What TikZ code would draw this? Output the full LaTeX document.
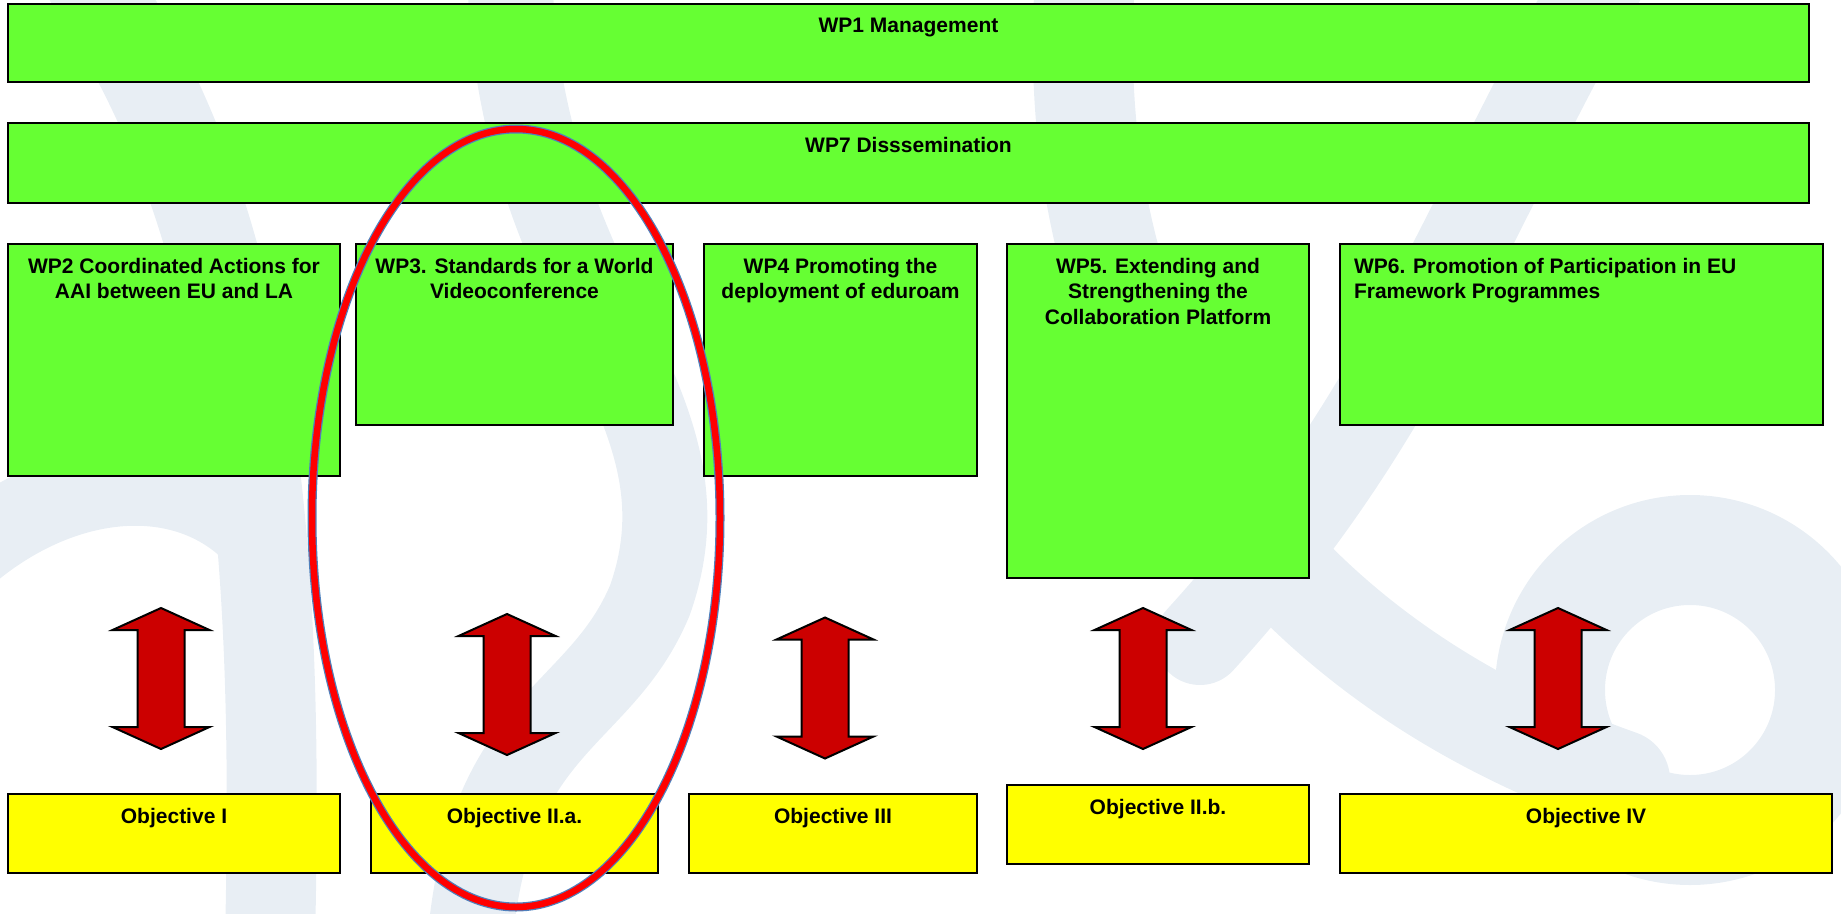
\documentclass[tikz,border=0pt]{standalone}
\usepackage{fontspec}
\setmainfont{Liberation Sans}
\usetikzlibrary{
    calc,
    positioning
}

\definecolor{wpgreen}{HTML}{66FF33}
\definecolor{objyellow}{HTML}{FFFF00}
\definecolor{arrowred}{HTML}{CC0000}
\definecolor{ringred}{HTML}{FF0000}
\definecolor{ringblue}{HTML}{4F81BD}
\definecolor{logogray}{HTML}{E8EEF4}

\tikzset{
    wpbox/.style={draw=black, line width=2, fill=wpgreen, inner sep=0pt, outer sep=0pt, anchor=north west},
    objbox/.style={wpbox, fill=objyellow},
    boxtext/.style={font=\fontsize{21}{25.7}\selectfont\bfseries, align=center, inner sep=0pt, outer sep=0pt},
    logoband/.style={draw=logogray, line width=90, line cap=round},
    updown/.pic={
        \draw[draw=black, line width=2, fill=arrowred, line join=miter]
        (0,-70.5) -- ++(48.5,22) -- ++(-25,0) -- ++(0,97) -- ++(25,0) -- ++(-48.5,22)
        -- ++(-48.5,-22) -- ++(25,0) -- ++(0,-97) -- ++(-25,0) -- cycle;
    }
}

\begin{document}
\begin{tikzpicture}[x=1pt, y=-1pt]
    \useasboundingbox (0,0) rectangle (1841,913);
    \clip (0,0) rectangle (1841,913);

    % faint logo in the background
    \draw[logoband] (90,-20) .. controls (250,220) and (280,520) .. (270,940);
    \draw[logoband, line width=80] (-40,560) .. controls (60,470) and (190,460) .. (260,540);
    \draw[logoband, line width=85] (510,-20) .. controls (520,300) and (720,400) .. (650,600)
        .. controls (600,720) and (490,720) .. (470,940);
    \draw[logoband, line width=100] (1085,-20) .. controls (1060,350) and (1250,650) .. (1620,780);
    \draw[logoband] (1600,-20) .. controls (1450,250) and (1400,420) .. (1200,640);
    \draw[logoband, line width=110] (1690,690) circle [radius=140];

    % work packages
    \node[wpbox, minimum width=1801, minimum height=78] (wp1) at (8,4) {};
    \node[wpbox, minimum width=1801, minimum height=80] (wp7) at (8,123) {};
    \node[wpbox, minimum width=332, minimum height=232] (wp2) at (8,244) {};
    \node[wpbox, minimum width=317, minimum height=181] (wp3) at (356,244) {};
    \node[wpbox, minimum width=273, minimum height=232] (wp4) at (704,244) {};
    \node[wpbox, minimum width=302, minimum height=334] (wp5) at (1007,244) {};
    \node[wpbox, minimum width=483, minimum height=181] (wp6) at (1340,244) {};

    \node[boxtext, below=14pt of wp1.north] (wp1t) {WP1 Management};
    \node[boxtext, below=14pt of wp7.north] (wp7t) {WP7 Disssemination};
    \node[boxtext, below=14pt of wp2.north] (wp2t) {WP2 Coordinated Actions for\\AAI between EU and LA};
    \node[boxtext, below=14pt of wp3.north] (wp3t) {WP3. Standards for a World\\Videoconference};
    \node[boxtext, below=14pt of wp4.north] (wp4t) {WP4 Promoting the\\deployment of eduroam};
    \node[boxtext, below=14pt of wp5.north] (wp5t) {WP5. Extending and\\Strengthening the\\Collaboration Platform};
    \node[boxtext, align=left, below right=14pt and 14pt of wp6.north west] (wp6t) {WP6. Promotion of Participation in EU\\Framework Programmes};

    % objectives
    \node[objbox, minimum width=332, minimum height=79] (obI) at (8,794) {};
    \node[objbox, minimum width=287, minimum height=79] (obIIa) at (371,794) {};
    \node[objbox, minimum width=288, minimum height=79] (obIII) at (689,794) {};
    \node[objbox, minimum width=302, minimum height=79] (obIIb) at (1007,785) {};
    \node[objbox, minimum width=492, minimum height=79] (obIV) at (1340,794) {};

    \node[boxtext, below=14pt of obI.north] (obIt) {Objective I};
    \node[boxtext, below=14pt of obIIa.north] (obIIat) {Objective II.a.};
    \node[boxtext, below=14pt of obIII.north] (obIIIt) {Objective III};
    \node[boxtext, below=14pt of obIIb.north] (obIIbt) {Objective II.b.};
    \node[boxtext, below=14pt of obIV.north] (obIVt) {Objective IV};

    % double arrows
    \coordinate (ar1) at (161,678.5);
    \coordinate (ar2) at (507,684.5);
    \coordinate (ar3) at (825,688);
    \coordinate (ar4) at (1143,678.5);
    \coordinate (ar5) at (1558,678.5);
    \foreach \a in {ar1,ar2,ar3,ar4,ar5}
        \pic at (\a) {updown};

    % highlight of WP3
    \coordinate (focus) at (516,518);
    \draw[ringblue, line width=9] (focus) ellipse [x radius=204, y radius=389];
    \draw[ringred, line width=6.5] (focus) ellipse [x radius=204, y radius=389];
\end{tikzpicture}
\end{document}
